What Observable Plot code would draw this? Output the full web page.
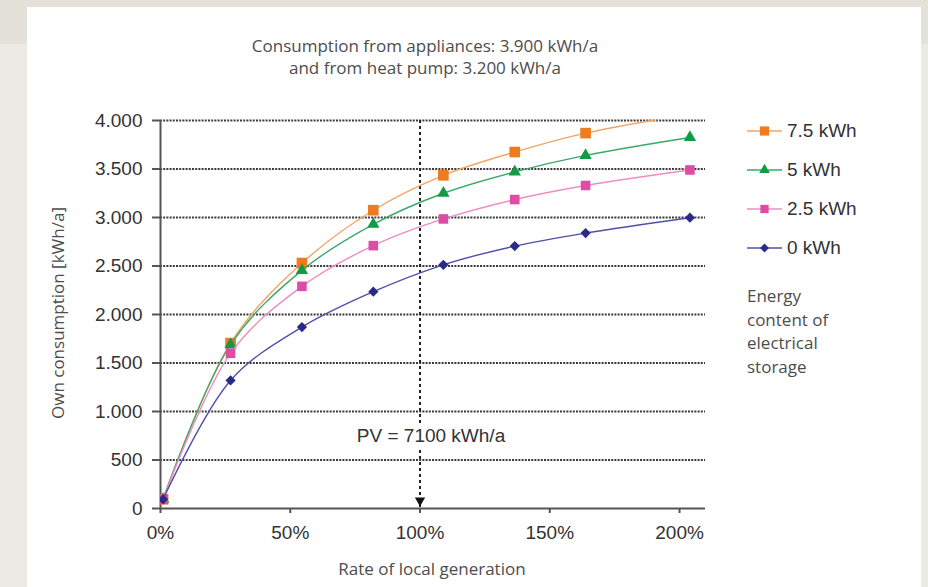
<!DOCTYPE html>
<html>
<head>
<meta charset="utf-8">
<script src="https://cdn.jsdelivr.net/npm/d3@7"></script>
<script src="https://cdn.jsdelivr.net/npm/@observablehq/plot@0.6"></script>
<style>
html, body { margin: 0; padding: 0; }
body { width: 928px; height: 587px; position: relative; overflow: hidden; background: #eceae5; }
#topband { position: absolute; left: 0; top: 0; width: 928px; height: 44px; background: #e4e1d9; }
#panel { position: absolute; left: 27px; top: 7px; width: 894px; height: 600px; background: #ffffff; }
#chart { position: absolute; left: 0; top: 0; }
.title { position: absolute; left: 0; width: 850px; top: 35px; text-align: center; font-family: "Open Sans", sans-serif; font-size: 17px; line-height: 22px; color: #4d4d4d; }
.ylabel { position: absolute; left: -92px; top: 302px; width: 300px; text-align: center; font-family: "Open Sans", sans-serif; font-size: 17px; line-height: 22px; color: #4d4d4d; transform: rotate(-90deg); }
.xlabel { position: absolute; left: 232px; top: 558px; width: 400px; text-align: center; font-family: "Open Sans", sans-serif; font-size: 17px; line-height: 22px; color: #4d4d4d; }
.legitem { position: absolute; left: 745px; height: 22px; }
.legitem svg { position: absolute; left: 0; top: 3px; }
.legitem span { position: absolute; left: 42px; top: 0; white-space: nowrap; font-family: "Liberation Sans", Arial, sans-serif; font-size: 19px; line-height: 22px; color: #333; }
.legnote { position: absolute; left: 747px; top: 284px; font-family: "Open Sans", sans-serif; font-size: 17px; line-height: 23.5px; color: #4d4d4d; }
</style>
</head>
<body>
<div id="topband"></div>
<div id="panel"></div>
<div id="chart"></div>
<div class="title">Consumption from appliances: 3.900 kWh/a<br>and from heat pump: 3.200 kWh/a</div>
<div class="ylabel">Own consumption [kWh/a]</div>
<div class="xlabel">Rate of local generation</div>
<div id="legend"></div>
<div class="legnote">Energy<br>content of<br>electrical<br>storage</div>
<script>
// ---- data ----
const rate = [1, 27, 54.5, 82, 109, 136.5, 163.8, 204];          // % of local generation
const seriesNames = ["7.5 kWh", "5 kWh", "2.5 kWh", "0 kWh"];
const storage75 = [95, 1705, 2530, 3075, 3435, 3675, 3870, 4065];
const storage5  = [95, 1690, 2455, 2930, 3250, 3470, 3640, 3825];
const storage25 = [95, 1600, 2290, 2710, 2985, 3185, 3330, 3490];
const storage0  = [95, 1320, 1870, 2235, 2512, 2705, 2840, 2998];
const xTicks = [0, 50, 100, 150, 200];
const yTicks = [0, 500, 1000, 1500, 2000, 2500, 3000, 3500, 4000];
const pvRate = 100;
const pvLabel = "PV = 7100 kWh/a";
const pvLabelValue = 750;

// ---- styles ----
const valuesBySeries = [storage75, storage5, storage25, storage0];
const lineColors = ["#f4a462", "#3aa96a", "#ef8cc3", "#5050aa"];
const markColors = ["#ee7b1e", "#139a45", "#dc4ea5", "#2a2a88"];
const symbols = ["square", "triangle", "square", "diamond2"];
const radii = [6, 4.6, 5.4, 4.6];

const rows = seriesNames.map((s, i) => rate.map((r, j) => ({series: s, rate: r, value: valuesBySeries[i][j]})));

const marks = [
  Plot.ruleY(yTicks.filter(d => d > 0), {stroke: "#3a3a3a", strokeWidth: 1.9, strokeDasharray: "2,1.2"}),
  Plot.ruleX([pvRate], {stroke: "#222", strokeWidth: 2, strokeDasharray: "3,3"}),
  Plot.ruleX([0], {stroke: "#555", strokeWidth: 2}),
  Plot.ruleY([0], {stroke: "#555", strokeWidth: 2}),
  Plot.dot([pvRate], {x: d => d, y: () => 0, dy: -8, symbol: "triangle", r: 3.8, rotate: 180, fill: "#111", stroke: "none"}),
  Plot.text([pvLabel], {x: () => pvRate, y: () => pvLabelValue, text: d => d, dx: 11, fontSize: 19, fill: "#333", stroke: "white", strokeWidth: 10, fontFamily: "Liberation Sans, Arial, sans-serif"})
];
seriesNames.forEach((s, i) => {
  marks.push(Plot.line(rows[i], {x: "rate", y: "value", stroke: lineColors[i], strokeWidth: 1.4, curve: "catmull-rom", clip: true}));
  marks.push(Plot.dot(rows[i], {x: "rate", y: "value", symbol: () => symbols[i], r: radii[i], fill: markColors[i], stroke: "none", clip: true}));
});

const chart = Plot.plot({
  width: 928,
  height: 587,
  marginLeft: 160,
  marginRight: 223,
  marginTop: 120,
  marginBottom: 79,
  style: {background: "transparent", fontFamily: "Liberation Sans, Arial, sans-serif", fontSize: "19px", color: "#333", overflow: "visible"},
  x: {domain: [0, 210], ticks: xTicks, tickFormat: d => d + "%", tickSize: 5, tickPadding: 12, label: null},
  y: {domain: [0, 4000], ticks: yTicks, tickFormat: d => d3.format(",")(d).replace(",", "."), tickSize: 8, tickPadding: 10, label: null},
  symbol: {type: "identity"},
  marks
});
d3.select(chart).selectAll("[aria-label='x-axis tick'], [aria-label='y-axis tick']").attr("stroke", "#555").attr("stroke-width", 2);
document.getElementById("chart").appendChild(chart);

// ---- legend ----
const legendTops = [120, 159, 198, 237];
const legend = d3.select("#legend");
seriesNames.forEach((s, i) => {
  const item = legend.append("div").attr("class", "legitem").style("top", legendTops[i] + "px");
  const svg = item.append("svg").attr("width", 40).attr("height", 16);
  svg.append("line").attr("x1", 2).attr("x2", 37).attr("y1", 8).attr("y2", 8).attr("stroke", lineColors[i]).attr("stroke-width", 1.6);
  const symMap = {square: d3.symbolSquare, triangle: d3.symbolTriangle, diamond2: d3.symbolDiamond2};
  svg.append("path").attr("transform", "translate(19.5,8)")
    .attr("d", d3.symbol(symMap[symbols[i]], Math.PI * radii[i] * radii[i] * 0.75)())
    .attr("fill", markColors[i]);
  item.append("span").text(s);
});
</script>
</body>
</html>
